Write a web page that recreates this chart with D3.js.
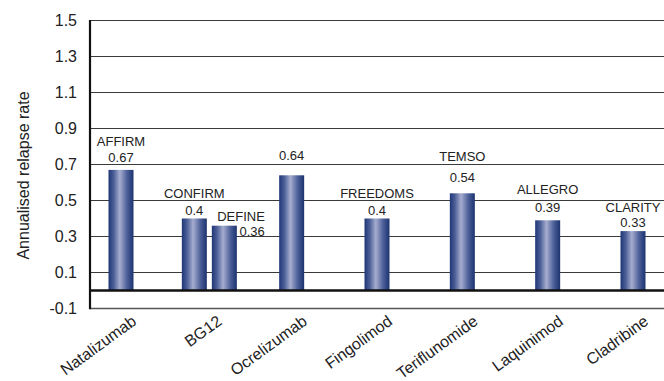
<!DOCTYPE html>
<html>
<head>
<meta charset="utf-8">
<script src="https://cdn.jsdelivr.net/npm/d3@7"></script>
<style>
  html, body { margin: 0; padding: 0; background: #fff; }
  svg { display: block; font-family: "Liberation Sans", Arial, sans-serif; }
</style>
</head>
<body>
<svg id="chart" width="664" height="381"></svg>
<script>
// Drugs on the x axis
const categories = ["Natalizumab", "BG12", "Ocrelizumab", "Fingolimod", "Teriflunomide", "Laquinimod", "Cladribine"];

// One entry per trial bar: drug, trial name and annualised relapse rate
const trialDrug  = ["Natalizumab", "BG12", "BG12", "Ocrelizumab", "Fingolimod", "Teriflunomide", "Laquinimod", "Cladribine"];
const trialName  = ["AFFIRM", "CONFIRM", "DEFINE", "", "FREEDOMS", "TEMSO", "ALLEGRO", "CLARITY"];
const trialRate  = [0.67, 0.4, 0.36, 0.64, 0.4, 0.54, 0.39, 0.33];

// Y axis ticks
const yTicks = [-0.1, 0.1, 0.3, 0.5, 0.7, 0.9, 1.1, 1.3, 1.5];

// Label placement: how far each value label sits above its bar, and the gap to the trial name
const valueLift = [8, 4, 0, 15, 4, 11, 8, 4];
const nameGap   = [16, 17, 0, 0, 17, 21, 18, 15];

const svg = d3.select("#chart");
const plotLeft = 90, plotRight = 664, plotTop = 20.5, plotBottom = 308.5;

const y = d3.scaleLinear().domain([-0.1, 1.5]).range([plotBottom, plotTop]);
const x = d3.scalePoint().domain(categories).range([121, 633]);
const barW = 25;

// Position of each bar inside its drug slot (side by side when a drug has several trials)
const trials = trialRate.map((v, i) => ({ drug: trialDrug[i], name: trialName[i], rate: v, i }));
trials.forEach(t => {
  const same = trials.filter(s => s.drug === t.drug);
  const n = same.length;
  const k = same.indexOf(t);
  if (n > 1) {
    const sub = d3.scaleBand().domain(d3.range(n)).range([-n * 15 + 2.5, n * 15 + 2.5]);
    t.x0 = x(t.drug) + 3 + sub(k);
  } else {
    t.x0 = x(t.drug) - barW / 2;
  }
});

// Bar gradient
const defs = svg.append("defs");
const grad = defs.append("linearGradient").attr("id", "barGrad")
  .attr("x1", "0%").attr("x2", "100%").attr("y1", "0%").attr("y2", "0%");
grad.append("stop").attr("offset", "0%").attr("stop-color", "#1f3777");
grad.append("stop").attr("offset", "20%").attr("stop-color", "#4a5d96");
grad.append("stop").attr("offset", "45%").attr("stop-color", "#a6adcf");
grad.append("stop").attr("offset", "75%").attr("stop-color", "#4b5e98");
grad.append("stop").attr("offset", "100%").attr("stop-color", "#1b336f");

// Gridlines
svg.append("g").selectAll("line").data(yTicks.filter(t => t > 0)).join("line")
  .attr("x1", plotLeft).attr("x2", plotRight)
  .attr("y1", d => y(d)).attr("y2", d => y(d))
  .attr("stroke", "#3a3a3a").attr("stroke-width", 1.1);

// Bottom frame line
svg.append("line").attr("x1", plotLeft).attr("x2", plotRight)
  .attr("y1", y(-0.1)).attr("y2", y(-0.1))
  .attr("stroke", "#555").attr("stroke-width", 1.4);

// Y axis labels
const yAxis = d3.axisLeft(y).tickValues(yTicks).tickSize(0).tickPadding(13)
  .tickFormat(d => d3.format(".1f")(d).replace("−", "-"));
const gy = svg.append("g").attr("transform", `translate(${plotLeft},0)`).call(yAxis);
gy.select(".domain").remove();
gy.selectAll("text").attr("font-size", 16).attr("fill", "#222")
  .attr("font-family", "'Liberation Sans', Arial, sans-serif");

// Bars
svg.append("g").selectAll("rect").data(trials).join("rect")
  .attr("x", d => d.x0).attr("width", barW)
  .attr("y", d => y(d.rate)).attr("height", d => y(0) - y(d.rate))
  .attr("fill", "url(#barGrad)");

// Zero line and left axis line
svg.append("line").attr("x1", plotLeft).attr("x2", plotRight)
  .attr("y1", y(0)).attr("y2", y(0))
  .attr("stroke", "#111").attr("stroke-width", 2.6);
svg.append("line").attr("x1", plotLeft).attr("x2", plotLeft)
  .attr("y1", plotTop - 0.5).attr("y2", plotBottom + 0.7)
  .attr("stroke", "#111").attr("stroke-width", 2.2);

// Trial and value labels
const lab = svg.append("g").attr("font-size", 13).attr("fill", "#222");
trials.forEach(t => {
  const cx = t.x0 + barW / 2;
  const topY = y(t.rate);
  if (t.name === "DEFINE") {
    const ex = t.x0 + barW + 28;
    lab.append("text").attr("x", ex).attr("y", topY - 4.5).attr("text-anchor", "end").text(t.name);
    lab.append("text").attr("x", ex).attr("y", topY + 10).attr("text-anchor", "end").text(t.rate);
    return;
  }
  const vy = topY - valueLift[t.i];
  lab.append("text").attr("x", cx).attr("y", vy).attr("text-anchor", "middle").text(t.rate);
  if (t.name) {
    lab.append("text").attr("x", cx).attr("y", vy - nameGap[t.i]).attr("text-anchor", "middle").text(t.name);
  }
});

// X axis category labels
const xAxis = d3.axisBottom(x).tickSize(0).tickPadding(0);
const gx = svg.append("g").attr("transform", `translate(0,${plotBottom})`).call(xAxis);
gx.select(".domain").remove();
gx.selectAll("text")
  .attr("font-size", 16).attr("fill", "#222")
  .attr("font-family", "'Liberation Sans', Arial, sans-serif")
  .attr("text-anchor", "end").attr("dy", 0).attr("y", 0)
  .attr("transform", "translate(16,15) rotate(-36)");

// Y axis title
svg.append("text")
  .attr("transform", `translate(29,${(88 + 263) / 2}) rotate(-90)`)
  .attr("text-anchor", "middle").attr("font-size", 16).attr("fill", "#222")
  .text("Annualised relapse rate");
</script>
</body>
</html>
